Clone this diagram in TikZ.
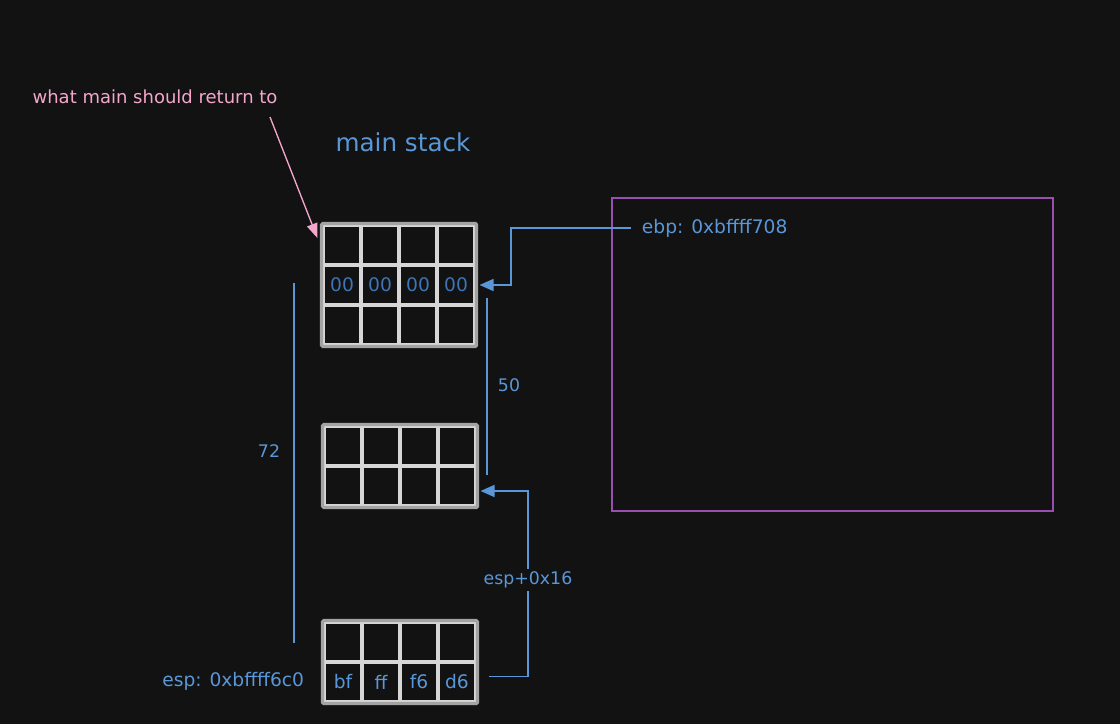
\documentclass[tikz,border=0pt]{standalone}
\usepackage{fontspec}
\setmainfont{DejaVu Sans}
\usetikzlibrary{positioning,arrows.meta}
\definecolor{bg}{HTML}{121212}
\definecolor{ink}{HTML}{5A97D8}
\definecolor{darkink}{HTML}{3F74B6}
\definecolor{pinkink}{HTML}{F4A6CC}
\definecolor{heapline}{HTML}{9A4FB0}
\definecolor{gridline}{HTML}{D6D6D6}
\definecolor{frameline}{HTML}{A3A3A3}
\begin{document}
\begin{tikzpicture}[x=0.75pt,y=-0.75pt,
    cell/.style={draw=gridline,line width=2.3pt,minimum width=28.5pt,minimum height=30pt,inner sep=0pt},
    blockframe/.style={draw=frameline,line width=2.4pt,rounded corners=1pt},
    lbl/.style={text=ink,font=\fontsize{13}{15}\selectfont,inner sep=2pt},
    biglbl/.style={lbl,font=\fontsize{14}{16}\selectfont},
    link/.style={draw=ink,line width=1.1pt,-{Triangle[length=10.5pt,width=9pt]}},
    measure/.style={draw=ink,line width=1.1pt}]
  \fill[bg] (0,0) rectangle (1120,724);
  \def \Blocks{
    top/323/225/3,
    mid/324/426/2,
    bot/324/622/2}
  \foreach \b / \x / \y / \n in \Blocks{
    \foreach \r in {1,...,\n}{
      \foreach \c in {1,...,4}{
        \node[cell] (\b-\r-\c) at ({\x+19+38*(\c-1)},{\y+20+40*(\r-1)}) {};
      }
    }
    \draw[blockframe] (\b-1-1.north west) rectangle (\b-\n-4.south east);
  }
  \foreach \c in {1,...,4}{
    \node[biglbl,text=darkink] (zero-\c) at (top-2-\c) {00};
  }
  \foreach \c / \t in {1/bf,2/ff,3/f6,4/d6}{
    \node[biglbl] (byte-\c) at (bot-2-\c) {\t};
  }
  \node[lbl,font=\fontsize{18.5}{22}\selectfont] (title) at (403,142) {main stack};
  \node[text=pinkink,font=\fontsize{13.5}{16}\selectfont] (ret) at (155,97) {what main should return to};
  \coordinate (retfrom) at (270,117);
  \draw[pinkink,line width=1pt,-{Triangle[length=11pt,width=8pt]}] (retfrom) -- ([xshift=-3pt,yshift=-11pt]top-1-1.north west);
  \node[draw=heapline,line width=0.9pt,minimum width=330.75pt,minimum height=234.75pt,inner sep=0pt] (heap) at (832.5,354.5) {};
  \node[biglbl,anchor=west] (ebp) at (639,228) {ebp: 0xbffff708};
  \coordinate (ebpbend) at (511,0);
  \draw[link] ([xshift=-6pt]ebp.west) -- (ebp.west -| ebpbend) |- ([xshift=2.25pt]top-2-4.east);
  \node[biglbl,anchor=east] (esp) at (307,681) {esp: 0xbffff6c0};
  \coordinate (espbend) at (528,580);
  \draw[link] ([xshift=8.25pt,yshift=4pt]bot-2-4.east) -| (espbend) node[lbl,fill=bg] (espoff) {esp+0x16} |- ([xshift=2.25pt,yshift=-3.75pt]mid-2-4.east);
  % sizes
  \coordinate (top50) at (487,298);
  \coordinate (bot50) at (487,475);
  \draw[measure] (top50) -- (bot50);
  \node[lbl] (len50) at (509,385) {50};
  \coordinate (top72) at (294,283);
  \coordinate (bot72) at (294,643);
  \draw[measure] (top72) -- (bot72);
  \node[lbl] (len72) at (269,451) {72};
\end{tikzpicture}
\end{document}
